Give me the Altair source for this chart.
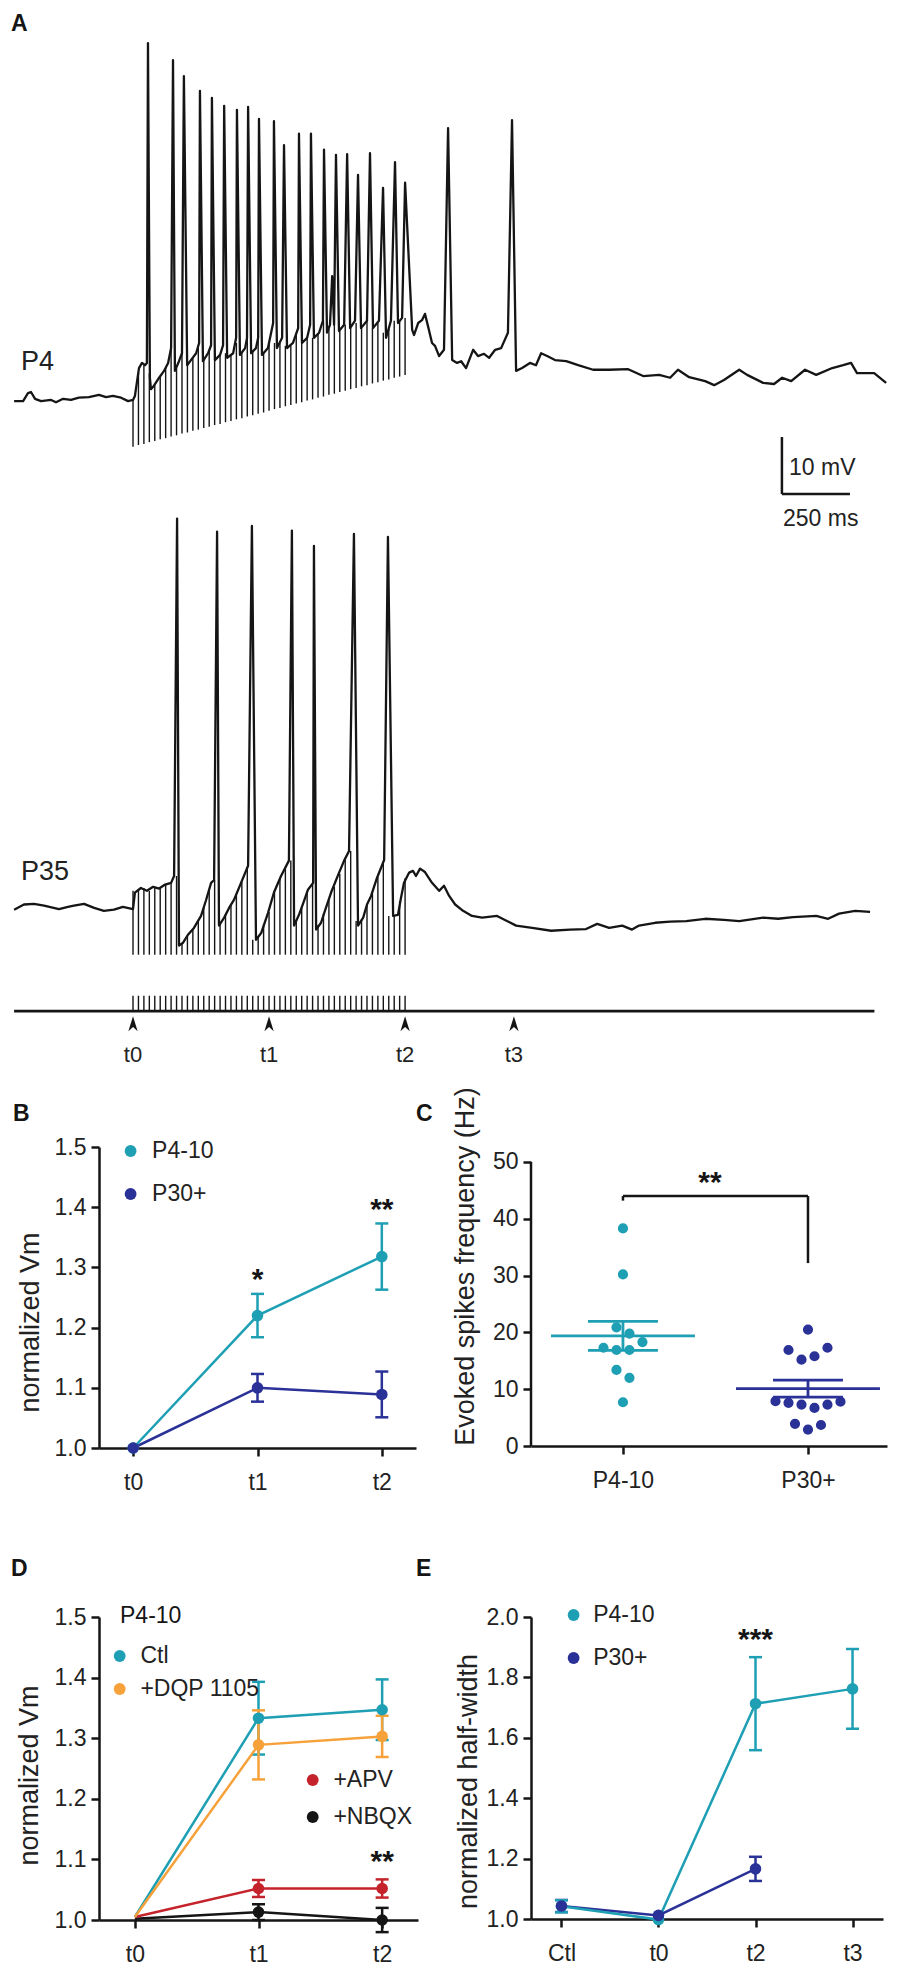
import altair as alt
import pandas as pd

FONT = "Liberation Sans"
INK = "#222222"
BLACK = "#151515"
TEAL = "#1e9fb4"
NAVY = "#2a3197"
ORANGE = "#f6a13a"
RED = "#c5232b"

# ===================== Panel A : recorded traces =====================
pulse_times_ms = [0, 20, 40, 60, 80, 100, 120, 140, 160, 180, 200, 220, 240, 260, 280,
                  300, 320, 340, 360, 380, 400, 420, 440, 460, 480, 500, 520, 540, 560,
                  580, 600, 620, 640, 660, 680, 700, 720, 740, 760, 780, 800, 820, 840,
                  860, 880, 900, 920, 940, 960, 980, 1000]

# (time ms from stimulus onset, membrane potential mV relative to rest)
p4_trace = [
    (-437, -0.2), (-404, -0.2), (-386, 1.2), (-375, 1.4), (-360, 0.2), (-338, -0.2), (-301, 0.0),
    (-283, -0.4), (-257, 0.2), (-228, 0.0), (-199, 0.4), (-162, 0.5), (-125, 0.9), (-99, 0.5),
    (-74, 0.7), (-44, 0.4), (-18, -0.2), (0, 0.0),
    (7, 0.7), (22, 5.6), (33, 6.5), (44, 6.1), (51, 6.5), (55, 62.6), (62, 3.9), (66, 1.9),
    (77, 2.5), (96, 3.9), (114, 5.1), (129, 6.5), (140, 9.1), (147, 59.6), (154, 5.1), (169, 6.8),
    (180, 8.2), (187, 56.8), (199, 6.1), (213, 7.0), (232, 8.2), (243, 10.0), (246, 54.2),
    (257, 6.8), (276, 8.2), (287, 9.6), (290, 53.0), (301, 7.0), (320, 7.9), (331, 9.6),
    (335, 51.6), (346, 7.4), (368, 8.2), (379, 10.9), (382, 50.9), (393, 7.9), (412, 9.1),
    (419, 10.9), (423, 51.4), (434, 8.2), (452, 9.1), (460, 10.9), (463, 49.3), (474, 7.9),
    (496, 9.1), (515, 13.5), (518, 48.9), (529, 9.1), (548, 10.9), (555, 44.7), (566, 9.1),
    (588, 10.0), (607, 12.6), (610, 46.7), (621, 10.0), (640, 10.9), (651, 13.2), (654, 46.7),
    (665, 10.9), (684, 11.8), (698, 13.9), (702, 43.9), (713, 11.8), (724, 13.2), (732, 21.7),
    (739, 13.2), (746, 43.0), (757, 12.1), (776, 13.2), (787, 43.1), (798, 12.6), (816, 13.9),
    (827, 39.5), (838, 12.6), (860, 13.9), (871, 43.3), (882, 12.6), (904, 13.9), (919, 37.2),
    (930, 10.9), (948, 13.9), (963, 41.7), (974, 13.5), (989, 14.4), (1000, 38.1),
    (1026, 12.3), (1033, 11.4), (1048, 13.5), (1062, 14.0), (1073, 15.1), (1084, 13.0),
    (1099, 10.0), (1110, 9.5), (1125, 7.7), (1143, 8.8), (1158, 47.7), (1173, 7.0), (1191, 6.5),
    (1206, 6.8), (1224, 5.6), (1250, 8.8), (1268, 7.7), (1290, 8.1), (1309, 7.4), (1331, 8.8),
    (1353, 9.1), (1378, 11.8), (1393, 49.1), (1408, 5.1), (1430, 5.6), (1459, 6.5), (1481, 6.1),
    (1500, 8.2), (1522, 7.7), (1551, 7.0), (1592, 6.8), (1636, 6.1), (1691, 5.3), (1750, 5.3),
    (1820, 5.4), (1875, 4.2), (1934, 4.4), (1974, 3.9), (2003, 5.3), (2044, 4.0), (2103, 3.3),
    (2136, 2.6), (2172, 3.5), (2228, 5.3), (2257, 4.4), (2316, 3.0), (2356, 2.8), (2386, 3.9),
    (2419, 3.3), (2470, 5.3), (2511, 4.4), (2570, 5.6), (2610, 6.1), (2639, 6.5), (2661, 4.7),
    (2724, 4.7), (2768, 3.0),
]
p4_artifact_top = [0.0, 4.7, 6.1, 4.7, 2.6, 4.2, 5.6, 9.1, 5.6, 8.2, 6.1, 7.4, 9.6, 7.0, 8.8,
                   7.2, 7.9, 8.2, 7.9, 10.0, 8.2, 10.9, 8.6, 10.9, 8.2, 10.0, 10.0, 10.0, 9.5,
                   9.6, 11.8, 10.0, 10.9, 10.9, 11.6, 13.9, 12.6, 13.2, 12.1, 13.2, 12.6, 13.5,
                   12.6, 13.9, 12.6, 13.5, 11.8, 12.6, 13.9, 13.9, 14.4]
p4_artifact_tip = [-8.2, -7.9, -7.7, -7.4, -7.2, -6.9, -6.7, -6.4, -6.2, -5.9, -5.7, -5.4, -5.2,
                   -4.9, -4.7, -4.4, -4.2, -3.9, -3.7, -3.4, -3.2, -2.9, -2.7, -2.4, -2.2, -1.9,
                   -1.6, -1.4, -1.1, -0.9, -0.6, -0.4, -0.1, 0.1, 0.4, 0.6, 0.9, 1.1, 1.4, 1.6,
                   1.9, 2.1, 2.4, 2.6, 2.9, 3.1, 3.4, 3.6, 3.9, 4.1, 4.4]

p35_trace = [
    (-437, -0.5), (-401, 0.4), (-364, 0.5), (-327, 0.2), (-272, -0.4), (-239, 0.0), (-217, 0.2),
    (-180, 0.5), (-143, -0.2), (-107, -0.7), (-70, -0.5), (-37, 0.0), (0, -0.4),
    (7, 2.5), (29, 3.3), (51, 2.8), (74, 3.5), (96, 3.2), (118, 3.9), (140, 4.2), (151, 5.4),
    (162, 68.1), (169, -6.8), (184, -6.3), (202, -4.9), (224, -3.7), (250, -1.6), (268, 1.1),
    (287, 4.2), (298, 4.7), (309, 65.8), (316, -3.3), (335, -1.9), (353, -0.2), (371, 1.2),
    (397, 4.2), (423, 7.2), (437, 66.8), (452, -5.8), (471, -4.6), (496, -1.1), (518, 2.5),
    (544, 5.4), (573, 8.1), (584, 66.0), (592, -3.3), (610, -1.4), (629, 1.1), (643, 3.0),
    (662, 4.2), (665, 63.3), (673, -4.0), (691, -2.8), (709, -0.2), (728, 2.5), (754, 5.6),
    (776, 8.1), (794, 9.8), (812, 65.4), (827, -3.3), (846, -1.9), (860, 0.4), (875, 1.9),
    (897, 5.1), (923, 8.2), (937, 64.9), (956, -1.6), (974, -1.4), (985, 1.6), (996, 4.2),
    (1015, 6.0), (1029, 6.3), (1040, 5.4), (1055, 6.7), (1073, 6.1), (1099, 4.2), (1125, 2.8),
    (1143, 3.7), (1162, 1.9), (1184, 0.4), (1213, -0.7), (1246, -1.6), (1283, -1.9),
    (1338, -1.6), (1367, -2.3), (1408, -3.3), (1467, -3.7), (1537, -4.2), (1606, -4.0),
    (1665, -3.9), (1706, -3.0), (1750, -3.7), (1798, -3.3), (1834, -4.0), (1860, -3.3),
    (1919, -2.8), (1974, -2.6), (2033, -2.5), (2103, -2.1), (2172, -2.3), (2228, -2.5),
    (2316, -1.9), (2371, -2.1), (2426, -1.8), (2511, -1.6), (2555, -2.1), (2595, -1.2),
    (2654, -0.7), (2709, -0.9),
]
p35_artifact_top = [2.8, 3.0, 3.3, 2.8, 3.5, 3.2, 3.9, 4.2, 5.4, -6.5, -5.0, -4.0, -2.5, 0.0,
                    3.0, 4.7, -3.0, -1.5, 0.5, 2.0, 4.4, 7.0, -5.8, -5.3, -3.0, -0.9, 2.5, 5.0,
                    6.8, 8.1, -2.3, -0.2, 2.6, 4.2, -3.2, -1.2, 1.3, 3.5, 5.8, 8.3, 9.8, -2.5,
                    -2.2, 0.3, 2.3, 5.2, 7.9, -1.6, -1.6, 1.0, 5.0]
p35_artifact_tip = -8.4

marker_names = ["t0", "t1", "t2", "t3"]
marker_times_ms = [0, 500, 1000, 1400]
record_span_ms = [-437, 2725]
scalebar_ms = 250
scalebar_mv = 10

# layout constants for panel A (vertical placement of the stacked traces)
P35_OFFSET = -88.9
STIM_Y = -107.2
STIM_TICK_TOP = -104.5
ARROW_Y = -109.4
MARKER_LABEL_Y = -114.9
SB_T, SB_V = 2385, -16.5

# panel A uses a small layout cell; its content overflows (not clipped) to the right/bottom
xA_scale = alt.Scale(domain=[-125, 1040.1], nice=False, zero=False)
yA_scale = alt.Scale(domain=[-101.39, 68.23], nice=False, zero=False)


def ax(f):
    return alt.X(f"{f}:Q", scale=xA_scale, axis=None)


def ay(f):
    return alt.Y(f"{f}:Q", scale=yA_scale, axis=None)


trace_rows = []
for name, tr, off in [("P4", p4_trace, 0.0), ("P35", p35_trace, P35_OFFSET)]:
    for i, (t, v) in enumerate(tr):
        trace_rows.append({"trace": name, "t": t, "v": v + off, "order": i})
df_trace = pd.DataFrame(trace_rows)

art_rows = []
for k, t in enumerate(pulse_times_ms):
    art_rows.append({"t": t, "v": p4_artifact_tip[k], "v2": p4_artifact_top[k]})
    art_rows.append({"t": t, "v": p35_artifact_tip + P35_OFFSET, "v2": p35_artifact_top[k] + P35_OFFSET})
df_art = pd.DataFrame(art_rows)

ARROW = "M0,-1L0.62,1L0,0.45L-0.62,1Z"

a_layers = [
    alt.Chart(df_art).mark_rule(color=BLACK, strokeWidth=1.4).encode(
        x=ax("t"), y=ay("v"), y2=alt.Y2("v2")),
    alt.Chart(df_trace).mark_line(color=BLACK, strokeWidth=2.3, strokeJoin="round").encode(
        x=ax("t"), y=ay("v"), detail="trace:N", order="order:Q"),
    alt.Chart(pd.DataFrame({"t": [record_span_ms[0]], "t2": [record_span_ms[1]], "v": [STIM_Y]}))
    .mark_rule(color=BLACK, strokeWidth=2.6).encode(x=ax("t"), x2=alt.X2("t2"), y=ay("v")),
    alt.Chart(pd.DataFrame({"t": pulse_times_ms, "v": STIM_Y, "v2": STIM_TICK_TOP}))
    .mark_rule(color=BLACK, strokeWidth=1.4).encode(x=ax("t"), y=ay("v"), y2=alt.Y2("v2")),
    alt.Chart(pd.DataFrame({"t": marker_times_ms, "v": ARROW_Y}))
    .mark_point(shape=ARROW, size=225, filled=True, color=BLACK, opacity=1, strokeWidth=0)
    .encode(x=ax("t"), y=ay("v")),
    alt.Chart(pd.DataFrame({"t": marker_times_ms, "v": MARKER_LABEL_Y, "label": marker_names}))
    .mark_text(fontSize=22, baseline="middle", align="center", color=INK, font=FONT)
    .encode(x=ax("t"), y=ay("v"), text="label:N"),
    alt.Chart(pd.DataFrame({"t": [SB_T, SB_T], "t2": [SB_T + scalebar_ms, SB_T],
                            "v": [SB_V, SB_V], "v2": [SB_V, SB_V + scalebar_mv]}))
    .mark_rule(color=BLACK, strokeWidth=2.5).encode(x=ax("t"), x2=alt.X2("t2"), y=ay("v"), y2=alt.Y2("v2")),
    alt.Chart(pd.DataFrame({"t": [SB_T + 26, SB_T + 4], "v": [SB_V + 3.3, SB_V - 5.6],
                            "label": [f"{scalebar_mv} mV", f"{scalebar_ms} ms"]}))
    .mark_text(fontSize=23, align="left", baseline="alphabetic", color=INK, font=FONT)
    .encode(x=ax("t"), y=ay("v"), text="label:N"),
    alt.Chart(pd.DataFrame({"t": [-412, -412], "v": [5.3, -84.2], "label": ["P4", "P35"]}))
    .mark_text(fontSize=27, align="left", baseline="alphabetic", color=INK, font=FONT)
    .encode(x=ax("t"), y=ay("v"), text="label:N"),
    alt.Chart(pd.DataFrame({"t": [-448.5], "v": [64.7], "label": ["A"]}))
    .mark_text(fontSize=23, fontWeight="bold", align="left", baseline="alphabetic", color=BLACK, font=FONT)
    .encode(x=ax("t"), y=ay("v"), text="label:N"),
]
panelA = alt.layer(*a_layers).properties(width=317, height=967)


# ===================== helpers =====================
def px_text(label, x, y, size, bold=False, align="left", baseline="alphabetic"):
    return alt.Chart(pd.DataFrame({"label": [label]})).mark_text(
        align=align, baseline=baseline, fontSize=size,
        fontWeight="bold" if bold else "normal", color=BLACK, font=FONT
    ).encode(x=alt.value(x), y=alt.value(y), text="label:N")


def series_df(times, means, sems, name):
    return pd.DataFrame({"tp": times, "mean": means,
                         "lo": [m - s for m, s in zip(means, sems)],
                         "hi": [m + s for m, s in zip(means, sems)],
                         "sem": sems, "series": name})


def series_layers(df, xenc, yenc, color):
    err = df[df["sem"] > 0]
    return [
        alt.Chart(err).mark_rule(color=color, strokeWidth=2.5).encode(x=xenc, y=yenc("lo"), y2=alt.Y2("hi")),
        alt.Chart(err).mark_tick(color=color, orient="horizontal", size=13, thickness=2.5, opacity=1)
        .encode(x=xenc, y=yenc("lo")),
        alt.Chart(err).mark_tick(color=color, orient="horizontal", size=13, thickness=2.5, opacity=1)
        .encode(x=xenc, y=yenc("hi")),
        alt.Chart(df).mark_line(color=color, strokeWidth=2.5).encode(x=xenc, y=yenc("mean")),
    ]


def legend(x, y, row_pad, offset):
    return alt.Legend(orient="none", legendX=x, legendY=y, title=None, rowPadding=row_pad,
                      labelOffset=offset, symbolSize=140, direction="vertical")


def stars(df, xenc, yenc):
    return alt.Chart(df).mark_text(fontSize=30, fontWeight="bold", baseline="alphabetic",
                                   align="center", dy=15.6, color=BLACK, font=FONT).encode(
        x=xenc, y=yenc("y"), text="s:N")


# ===================== Panel B =====================
b_times = ["t0", "t1", "t2"]
b_p4_mean = [1.0, 1.22, 1.318]
b_p4_sem = [0.0, 0.036, 0.055]
b_p30_mean = [1.0, 1.10, 1.089]
b_p30_sem = [0.0, 0.023, 0.038]
b_star_times = ["t1", "t2"]
b_star_y = [1.29, 1.407]
b_star_text = ["*", "**"]

xB = alt.X("tp:N", scale=alt.Scale(type="point", domain=b_times, padding=0.275),
           axis=alt.Axis(title=None, labelAngle=0))


def yB(f):
    return alt.Y(f"{f}:Q", scale=alt.Scale(domain=[1.0, 1.5], nice=False, zero=False),
                 axis=alt.Axis(values=[1.0, 1.1, 1.2, 1.3, 1.4, 1.5], format=".1f",
                               title="normalized Vm", titleX=-61, titleY=175,
                               titleBaseline="alphabetic", titleAngle=270))


dfb1 = series_df(b_times, b_p4_mean, b_p4_sem, "P4-10")
dfb2 = series_df(b_times, b_p30_mean, b_p30_sem, "P30+")
b_pts = pd.concat([dfb1, dfb2])
panelB = alt.layer(
    *series_layers(dfb2, xB, yB, NAVY),
    *series_layers(dfb1, xB, yB, TEAL),
    alt.Chart(b_pts).mark_point(filled=True, size=133, opacity=1, strokeWidth=0).encode(
        x=xB, y=yB("mean"),
        color=alt.Color("series:N", scale=alt.Scale(domain=["P4-10", "P30+"], range=[TEAL, NAVY]),
                        legend=legend(20.1, -7.5, 19, 10))),
    stars(pd.DataFrame({"tp": b_star_times, "y": b_star_y, "s": b_star_text}), xB, yB),
    px_text("B", -86, -26, 23, bold=True),
).properties(width=317, height=301)

# ===================== Panel C =====================
c_groups = ["P4-10", "P30+"]
c_p4_values = [38.3, 30.2, 20.9, 19.8, 18.3, 17.3, 16.9, 16.9, 13.4, 12.0, 7.7]
c_p4_slot = [0, 0, -1, 1, 3, -3, -1, 1, -1, 1, 0]
c_p30_values = [20.5, 16.9, 17.3, 15.2, 15.8, 7.9, 7.6, 7.3, 6.7, 7.3, 7.8, 3.9, 3.7, 2.9]
c_p30_slot = [0, -3, 3, -1, 1, -5, -3, -1, 1, 3, 5, -2, 2, 0]
c_mean = [19.4, 10.1]
c_sem = [2.55, 1.5]
c_bracket_y = 44.0
c_star_y = 47.5

SLOT = 0.0351
MEAN_HALF = 0.389
SEM_HALF = 0.189
C_XMIN = -0.497

xC_scale = alt.Scale(domain=[C_XMIN, 1.427], nice=False, zero=False)
xC = alt.X("gx:Q", scale=xC_scale,
           axis=alt.Axis(values=[0, 1], labelExpr="datum.value == 0 ? 'P4-10' : 'P30+'", title=None))


def yC(f):
    return alt.Y(f"{f}:Q", scale=alt.Scale(domain=[0, 52.64], nice=False, zero=False),
                 axis=alt.Axis(values=[0, 10, 20, 30, 40, 50], domain=False,
                               title="Evoked spikes frequency (Hz)", titleX=-57.7, titleY=119,
                               titleBaseline="alphabetic", titleAngle=270))


c_pts = pd.DataFrame(
    [{"gx": 0 + s * SLOT, "val": v, "group": "P4-10"} for v, s in zip(c_p4_values, c_p4_slot)]
    + [{"gx": 1 + s * SLOT, "val": v, "group": "P30+"} for v, s in zip(c_p30_values, c_p30_slot)])
c_lines = []
for g, (name, m, s) in enumerate(zip(c_groups, c_mean, c_sem)):
    c_lines.append({"gx": g - MEAN_HALF, "gx2": g + MEAN_HALF, "y": m, "y2": m, "group": name})
    c_lines.append({"gx": g - SEM_HALF, "gx2": g + SEM_HALF, "y": m + s, "y2": m + s, "group": name})
    c_lines.append({"gx": g - SEM_HALF, "gx2": g + SEM_HALF, "y": m - s, "y2": m - s, "group": name})
    c_lines.append({"gx": g, "gx2": g, "y": m - s, "y2": m + s, "group": name})
c_lines = pd.DataFrame(c_lines)
c_color = alt.Color("group:N", scale=alt.Scale(domain=c_groups, range=[TEAL, NAVY]), legend=None)
c_bracket = pd.DataFrame({"gx": [0, 0, 1], "gx2": [1, 0, 1],
                          "y": [c_bracket_y, 43.2, 32.2], "y2": [c_bracket_y, c_bracket_y, c_bracket_y]})

panelC = alt.layer(
    alt.Chart(pd.DataFrame({"gx": [C_XMIN], "gx2": [C_XMIN], "y": [0], "y2": [50]}))
    .mark_rule(color=BLACK, strokeWidth=2.5).encode(x=xC, x2=alt.X2("gx2"), y=yC("y"), y2=alt.Y2("y2")),
    alt.Chart(c_pts).mark_point(filled=True, size=104, opacity=1, strokeWidth=0).encode(
        x=xC, y=yC("val"), color=c_color),
    alt.Chart(c_lines).mark_rule(strokeWidth=2.8).encode(
        x=xC, x2=alt.X2("gx2"), y=yC("y"), y2=alt.Y2("y2"), color=c_color),
    alt.Chart(c_bracket).mark_rule(color=BLACK, strokeWidth=2.5).encode(
        x=xC, x2=alt.X2("gx2"), y=yC("y"), y2=alt.Y2("y2")),
    stars(pd.DataFrame({"gx": [0.47], "y": [c_star_y], "s": ["**"]}), xC, yC),
    px_text("C", -115, -26, 23, bold=True),
).properties(width=356, height=299)

# ===================== Panel D =====================
d_times = ["t0", "t1", "t2"]
d_ctl_mean = [1.005, 1.333, 1.347]
d_ctl_sem = [0.0, 0.06, 0.05]
d_dqp_mean = [1.005, 1.289, 1.303]
d_dqp_sem = [0.0, 0.057, 0.034]
d_apv_mean = [1.005, 1.052, 1.052]
d_apv_sem = [0.0, 0.014, 0.015]
d_nbqx_mean = [1.002, 1.013, 1.0]
d_nbqx_sem = [0.0, 0.013, 0.02]

xD = alt.X("tp:N", scale=alt.Scale(type="point", domain=d_times, padding=0.29),
           axis=alt.Axis(title=None, labelAngle=0))


def yD(f):
    return alt.Y(f"{f}:Q", scale=alt.Scale(domain=[1.0, 1.5], nice=False, zero=False),
                 axis=alt.Axis(values=[1.0, 1.1, 1.2, 1.3, 1.4, 1.5], format=".1f",
                               title="normalized Vm", titleX=-62, titleY=158,
                               titleBaseline="alphabetic", titleAngle=270))


dfd_ctl = series_df(d_times, d_ctl_mean, d_ctl_sem, "Ctl")
dfd_dqp = series_df(d_times, d_dqp_mean, d_dqp_sem, "+DQP 1105")
dfd_apv = series_df(d_times, d_apv_mean, d_apv_sem, "+APV")
dfd_nbqx = series_df(d_times, d_nbqx_mean, d_nbqx_sem, "+NBQX")
d_pts1 = pd.concat([dfd_ctl, dfd_dqp])
d_pts1 = d_pts1[d_pts1["sem"] > 0]
d_pts2 = pd.concat([dfd_apv, dfd_nbqx])
d_pts2 = d_pts2[d_pts2["sem"] > 0]

panelD = alt.layer(
    *series_layers(dfd_nbqx, xD, yD, BLACK),
    *series_layers(dfd_apv, xD, yD, RED),
    *series_layers(dfd_ctl, xD, yD, TEAL),
    *series_layers(dfd_dqp, xD, yD, ORANGE),
    alt.Chart(d_pts1).mark_point(filled=True, size=133, opacity=1, strokeWidth=0).encode(
        x=xD, y=yD("mean"),
        color=alt.Color("series:N", scale=alt.Scale(domain=["Ctl", "+DQP 1105"], range=[TEAL, ORANGE]),
                        legend=legend(9.2, 27.5, 9, 9.2))),
    alt.Chart(d_pts2).mark_point(filled=True, size=133, opacity=1, strokeWidth=0).encode(
        x=xD, y=yD("mean"),
        color=alt.Color("series:N", scale=alt.Scale(domain=["+APV", "+NBQX"], range=[RED, BLACK]),
                        legend=legend(202.2, 151.5, 13, 9.2))),
    stars(pd.DataFrame({"tp": ["t2"], "y": [1.106], "s": ["**"]}), xD, yD),
    px_text("P4-10", 21, -1, 23, baseline="middle"),
    px_text("D", -88, -41, 23, bold=True),
).resolve_scale(color="independent").properties(width=319, height=303)

# ===================== Panel E =====================
e_times = ["Ctl", "t0", "t2", "t3"]
e_p4_mean = [1.042, 0.998, 1.713, 1.762]
e_p4_sem = [0.02, 0.0, 0.154, 0.132]
e_p30_times = ["Ctl", "t0", "t2"]
e_p30_mean = [1.043, 1.012, 1.166]
e_p30_sem = [0.02, 0.0, 0.04]

xE = alt.X("tp:N", scale=alt.Scale(type="point", domain=e_times, padding=0.314),
           axis=alt.Axis(title=None, labelAngle=0))


def yE(f):
    return alt.Y(f"{f}:Q", scale=alt.Scale(domain=[1.0, 2.0], nice=False, zero=False),
                 axis=alt.Axis(values=[1.0, 1.2, 1.4, 1.6, 1.8, 2.0], format=".1f",
                               title="normalized half-width", titleX=-55, titleY=164,
                               titleBaseline="alphabetic", titleAngle=270))


dfe1 = series_df(e_times, e_p4_mean, e_p4_sem, "P4-10")
dfe2 = series_df(e_p30_times, e_p30_mean, e_p30_sem, "P30+")
panelE = alt.layer(
    *series_layers(dfe2, xE, yE, NAVY),
    *series_layers(dfe1, xE, yE, TEAL),
    alt.Chart(pd.concat([dfe1, dfe2])).mark_point(filled=True, size=133, opacity=1, strokeWidth=0).encode(
        x=xE, y=yE("mean"),
        color=alt.Color("series:N", scale=alt.Scale(domain=["P4-10", "P30+"], range=[TEAL, NAVY]),
                        legend=legend(31.1, -13.5, 19, 8.1))),
    stars(pd.DataFrame({"tp": ["t2"], "y": [1.947], "s": ["***"]}), xE, yE),
    px_text("E", -115, -41, 23, bold=True),
).properties(width=352, height=302)

# ===================== composition =====================
spacer = alt.Chart(pd.DataFrame({"a": [0]})).mark_point(opacity=0).encode(
    x=alt.value(0), y=alt.value(0)).properties(width=1, height=1)

chart = alt.concat(
    panelA, spacer, panelB, panelC, panelD, panelE,
    columns=2, bounds="flush", align="each",
    spacing=alt.RowColnumber(row=169, column=113),
).resolve_scale(x="independent", y="independent", color="independent").resolve_legend(
    color="independent"
).properties(
    padding={"left": 2, "top": 0, "right": 0, "bottom": 0}
).configure(font=FONT).configure_view(stroke=None).configure_axis(
    domainColor=BLACK, domainWidth=2.5, tickColor=BLACK, tickWidth=2.5, tickSize=8,
    labelFont=FONT, labelFontSize=23, labelColor=INK, titleFont=FONT, titleFontSize=27,
    titleFontWeight="normal", titleColor=INK, grid=False, labelFlush=False, labelOverlap=False,
).configure_axisX(labelPadding=15).configure_axisY(labelPadding=5).configure_legend(
    labelFont=FONT, labelFontSize=23, labelColor=INK, symbolType="circle", symbolStrokeWidth=0,
    padding=0, labelLimit=400,
)

chart.save("out.html", embed_options={"renderer": "svg", "actions": False})
